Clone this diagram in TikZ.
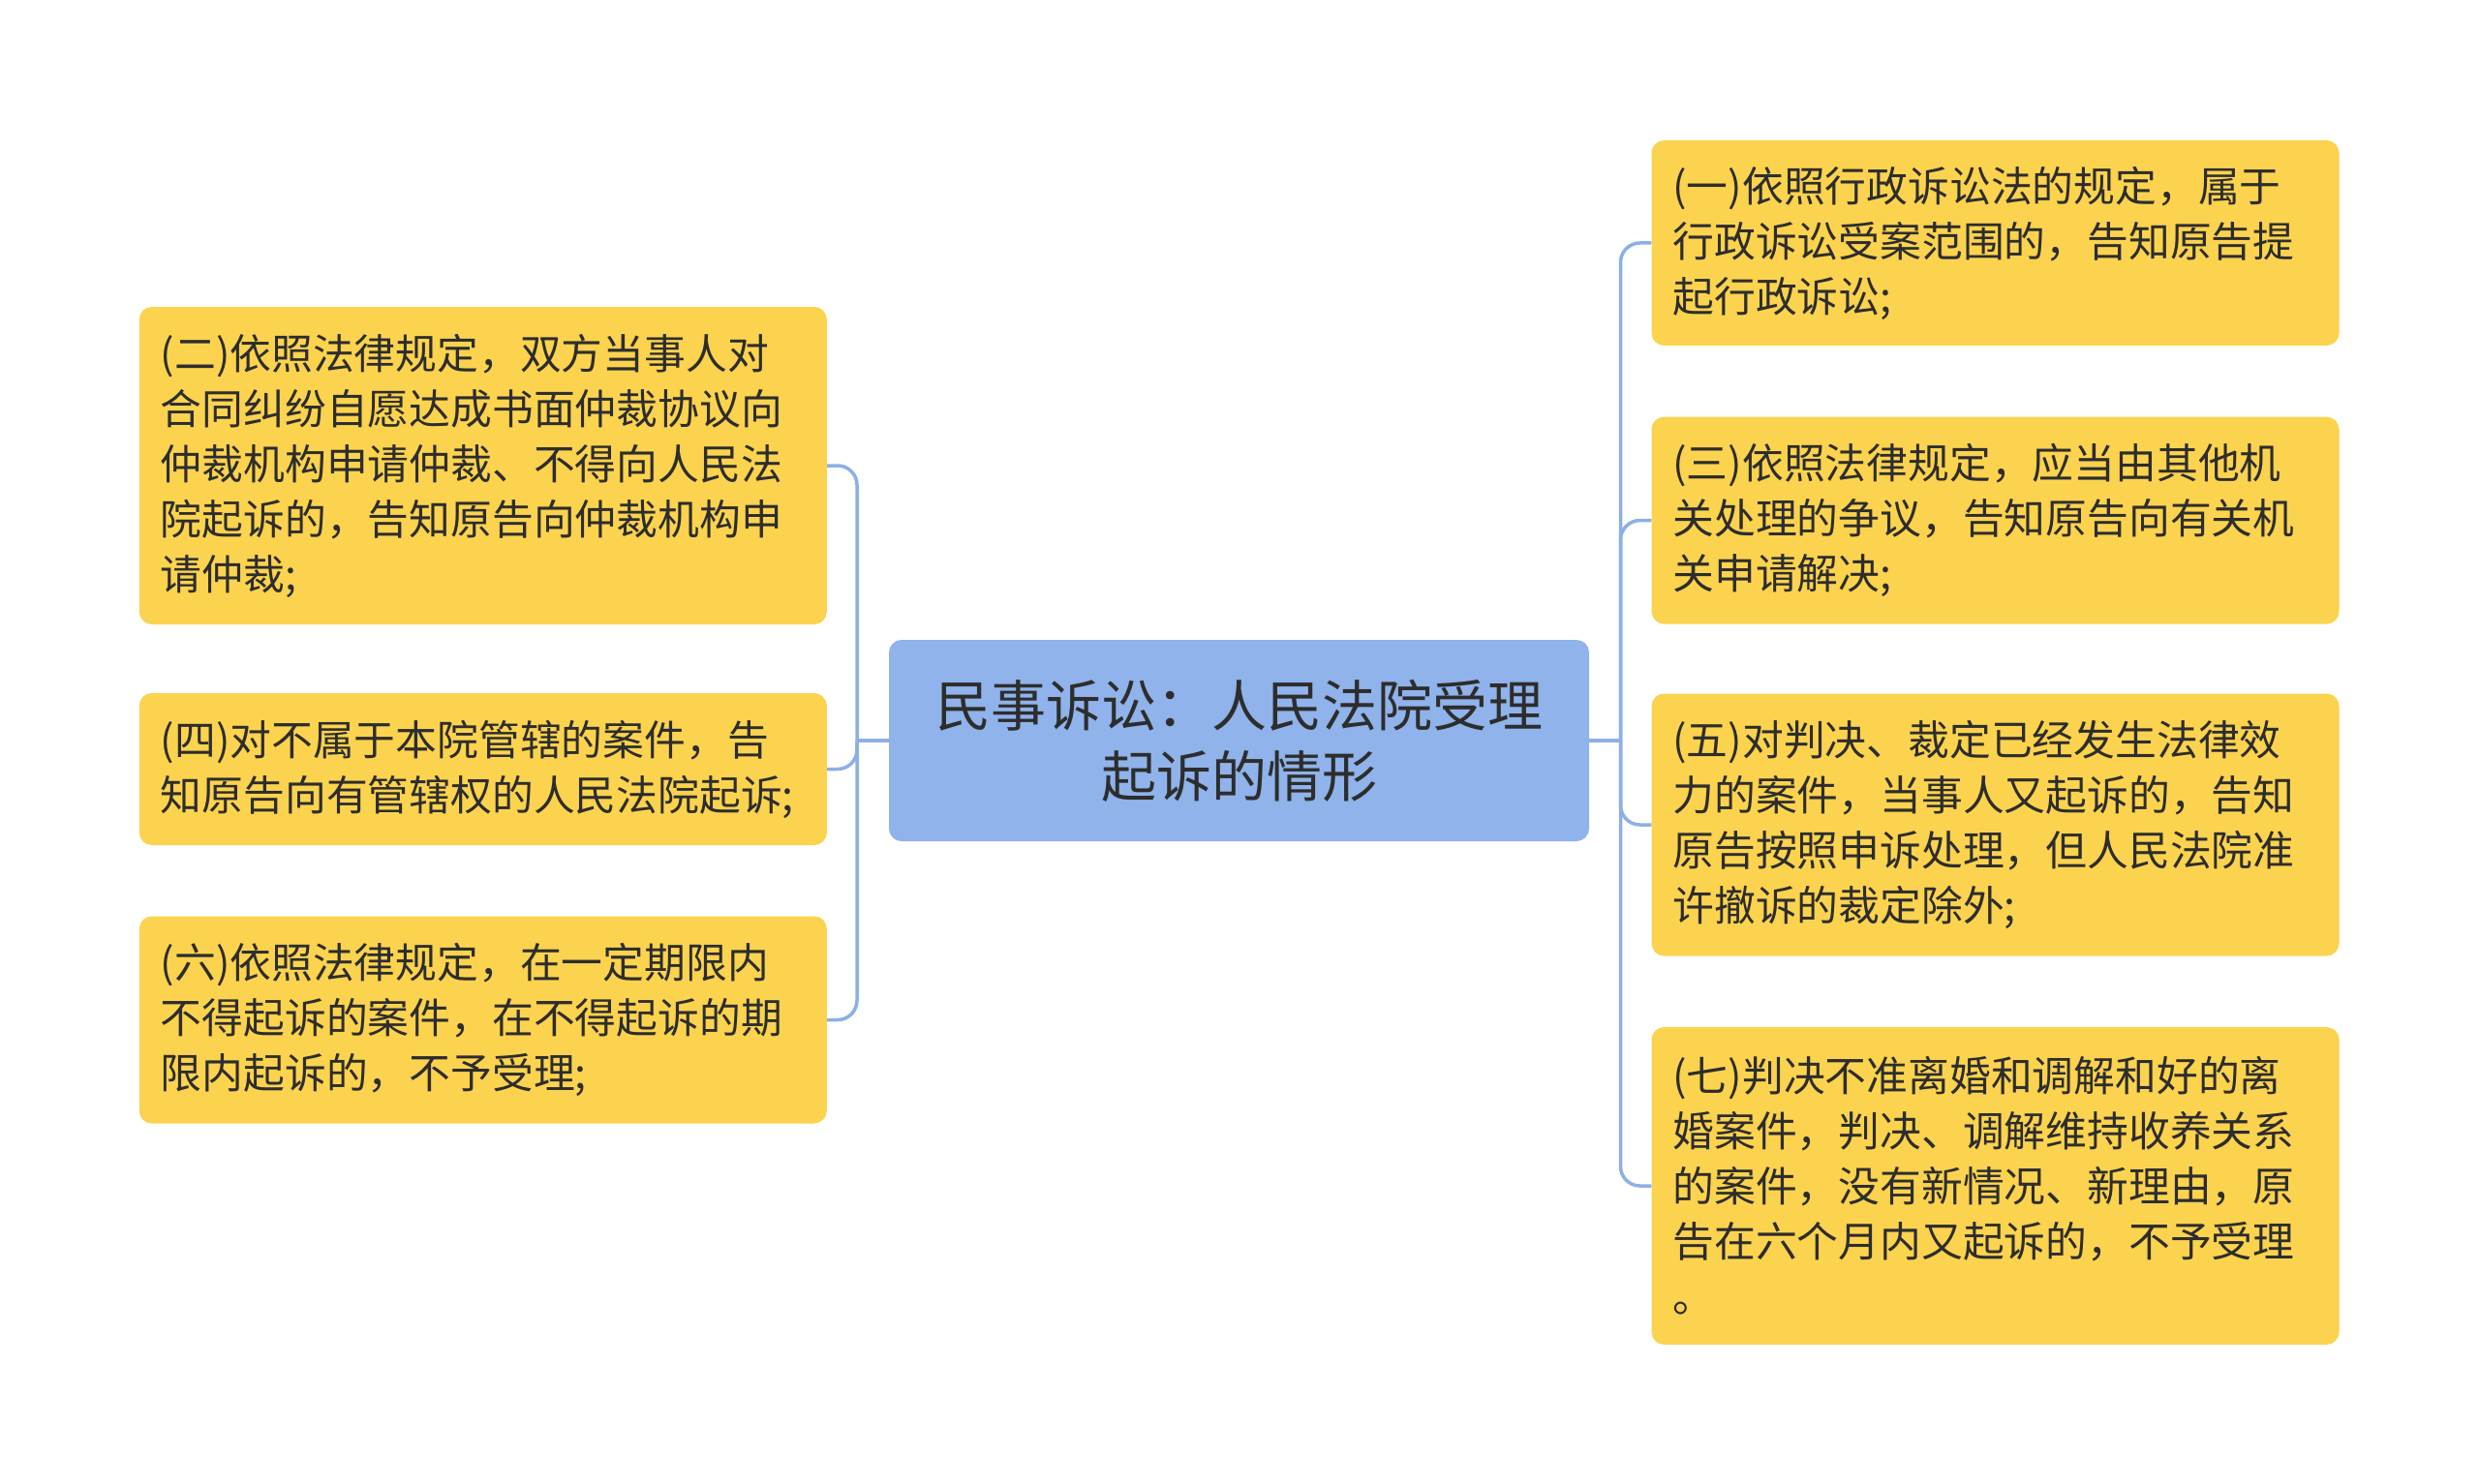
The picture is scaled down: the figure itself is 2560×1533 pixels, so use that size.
\documentclass[tikz,border=0pt]{standalone}
\usepackage{fontspec}
\setmainfont{Noto Sans CJK SC}
\definecolor{leafyellow}{RGB}{252,211,78}
\definecolor{rootblue}{RGB}{143,179,234}
\definecolor{linkblue}{RGB}{140,176,230}
\definecolor{txtgray}{RGB}{45,45,45}
\newcommand\leaffont{\fontsize{42.8}{57}\selectfont}
\newcommand\rootfont{\fontsize{57}{73}\selectfont}
\tikzset{
  leaf/.style={rectangle, rounded corners=13pt, fill=leafyellow, text=txtgray,
    minimum width=710pt, text width=666pt, inner xsep=22pt, inner ysep=0pt,
    align=left, font=\leaffont, anchor=center},
  root/.style={rectangle, rounded corners=13pt, fill=rootblue, text=txtgray,
    minimum width=723pt, minimum height=208pt, align=center, font=\rootfont},
  conn/.style={draw=linkblue, line width=3.5pt},
  elbow/.style={conn, rounded corners=20pt}
}
\begin{document}
\begin{tikzpicture}[x=1pt,y=-1pt]
\useasboundingbox[fill=white] (0,0) rectangle (2560,1533);

\node[root] (c) at (1279.5,765) {民事诉讼：人民法院受理\\起诉的情形};

% left
\node[leaf, minimum height=328pt] (n2) at (498.8,481) {(二)依照法律规定，双方当事人对\\合同纠纷自愿达成书面仲裁协议向\\仲裁机构申请仲裁、不得向人民法\\院起诉的，告知原告向仲裁机构申\\请仲裁;};
\node[leaf, minimum height=157pt] (n4) at (498.8,794.5) {(四)对不属于本院管辖的案件，告\\知原告向有管辖权的人民法院起诉;};
\node[leaf, minimum height=214pt] (n6) at (498.8,1053.5) {(六)依照法律规定，在一定期限内\\不得起诉的案件，在不得起诉的期\\限内起诉的，不予受理;};

% right
\node[leaf, minimum height=212pt] (n1) at (2060.5,251) {(一)依照行政诉讼法的规定，属于\\行政诉讼受案范围的，告知原告提\\起行政诉讼;};
\node[leaf, minimum height=214pt] (n3) at (2060.5,537.6) {(三)依照法律规定，应当由其他机\\关处理的争议，告知原告向有关机\\关申请解决;};
\node[leaf, minimum height=271pt] (n5) at (2060.5,852) {(五)对判决、裁定已经发生法律效\\力的案件，当事人又起诉的，告知\\原告按照申诉处理，但人民法院准\\许撤诉的裁定除外;};
\node[leaf, minimum height=328pt] (n7) at (2060.5,1225) {(七)判决不准离婚和调解和好的离\\婚案件，判决、调解维持收养关系\\的案件，没有新情况、新理由，原\\告在六个月内又起诉的，不予受理\\。};

\coordinate (lj) at (885,765);
\coordinate (rj) at (1673.5,765);

\draw[conn] (c.west) -- (lj);
\draw[conn] (c.east) -- (rj);
\foreach \n in {n2,n4,n6} \draw[elbow] (lj) |- (\n.east);
\foreach \n in {n1,n3,n5,n7} \draw[elbow] (rj) |- (\n.west);
\end{tikzpicture}
\end{document}
